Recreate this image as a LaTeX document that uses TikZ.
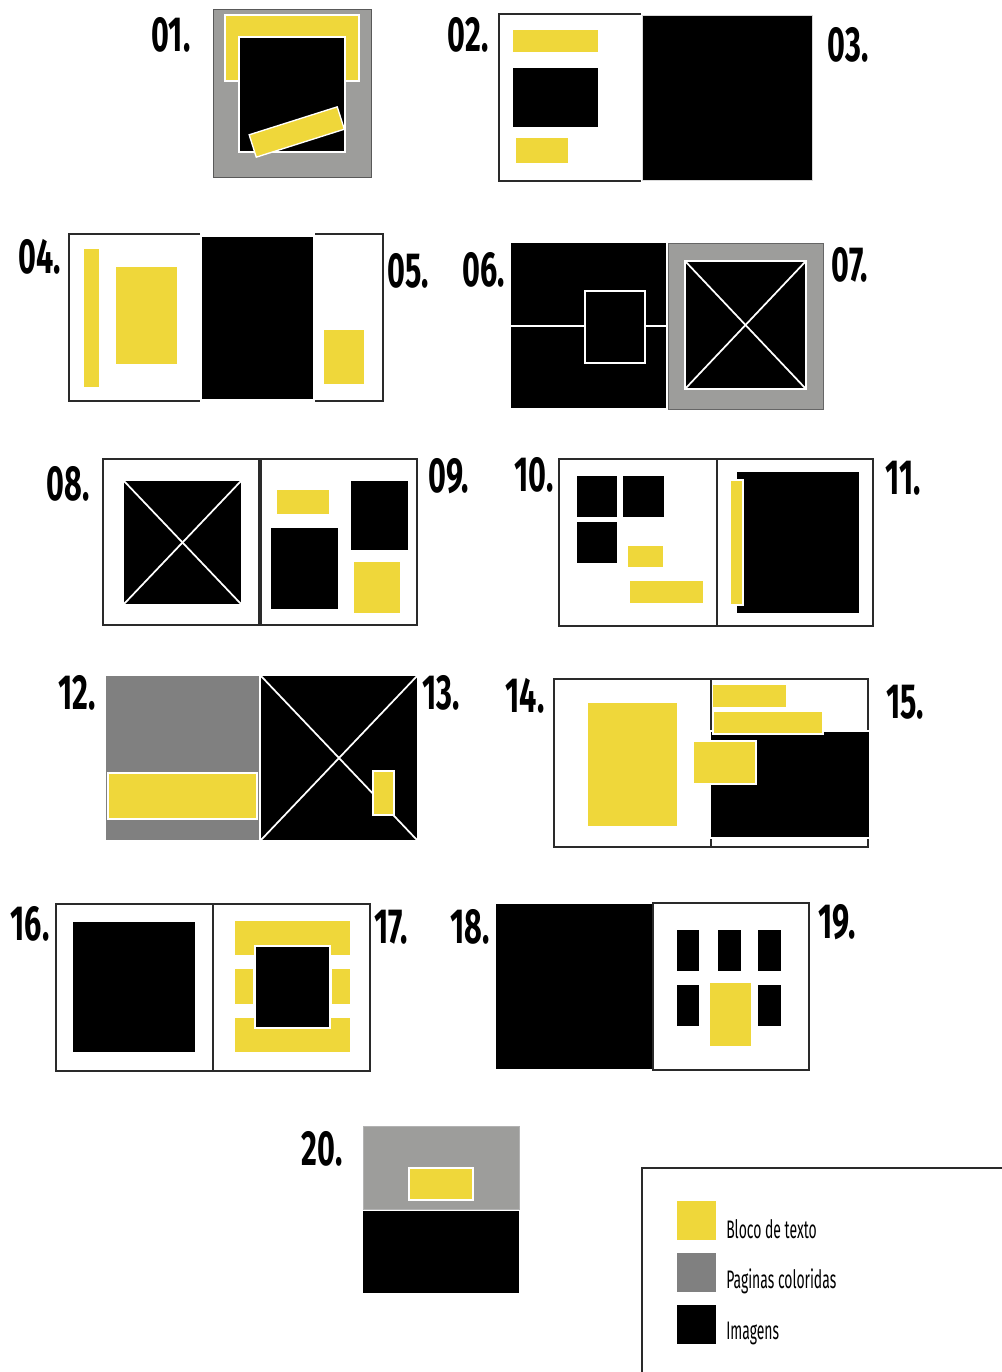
\documentclass[tikz,border=0pt]{standalone}
\usepackage{fontspec}
\newfontfamily\labfont{Fira Sans}[FakeStretch=0.62]
\newfontfamily\legfont{Fira Sans}[FakeStretch=0.55]
\definecolor{ylw}{HTML}{EFD73A}
\definecolor{lgray}{HTML}{9D9D9B}
\definecolor{dgray}{HTML}{808080}
\definecolor{frm}{HTML}{2A2A2A}
\begin{document}
\begin{tikzpicture}[x=0.75pt,y=-0.75pt,
 yb/.style={fill=ylw},
 ybw/.style={fill=ylw,draw=white,line width=1pt},
 ib/.style={fill=black},
 ibw/.style={fill=black,draw=white,line width=1pt},
 pagebox/.style={draw=frm,line width=1.1pt},
 wl/.style={draw=white,line width=1.3pt},
 num/.style={font=\labfont\bfseries\fontsize{37}{37}\selectfont, inner sep=0pt, anchor=center},
 leg/.style={font=\legfont\fontsize{19}{19}\selectfont, anchor=west, inner sep=0pt}]
\useasboundingbox[fill=white] (0,0) rectangle (1002,1372);

% ---- 01
\filldraw[fill=lgray, draw=gray!70!black, line width=0.6pt] (213,9) rectangle (371,177);
\filldraw[ybw] (225,15) rectangle (359,81);
\filldraw[ibw] (239,37) rectangle (345,152);
\node[ybw, rotate=17.6, minimum width=69.3pt, minimum height=17.6pt, inner sep=0pt] (r01) at (296.75,132) {};
\node[num] (n01) at (171,35) {01.};

% ---- 02 / 03
\draw[pagebox] (641,14) -- (499,14) -- (499,181) -- (641,181);
\filldraw[fill=black, draw=white!85!black, line width=0.6pt] (642,15) rectangle (812,180);
\fill[yb] (513,30) rectangle (598,52);
\fill[ib] (513,68) rectangle (598,127);
\fill[yb] (516,138) rectangle (568,163);
\node[num] (n02) at (468,35) {02.};
\node[num] (n03) at (848,45) {03.};

% ---- 04 / 05
\draw[pagebox] (200,234) -- (69,234) -- (69,401) -- (200,401);
\draw[pagebox] (315,234) -- (383,234) -- (383,401) -- (315,401);
\filldraw[ibw] (201,236) rectangle (314,400);
\fill[yb] (84,249) rectangle (99,387);
\fill[yb] (116,267) rectangle (177,364);
\fill[yb] (324,330) rectangle (364,384);
\node[num] (n04) at (40,257) {04.};
\node[num] (n05) at (408,271) {05.};

% ---- 06 / 07
\fill[black] (511,243) rectangle (666,408);
\draw[wl] (511,326) -- (585,326);
\draw[wl] (645,326) -- (666,326);
\draw[wl] (585,291) rectangle (645,363);
\filldraw[fill=lgray, draw=gray!80!black, line width=0.6pt] (668,243) rectangle (823,409);
\filldraw[fill=black, draw=white, line width=1.5pt] (685,261) rectangle (806,389);
\draw[wl] (685,261) -- (806,389);
\draw[wl] (806,261) -- (685,389);
\node[num] (n06) at (484,270) {06.};
\node[num] (n07) at (850,265) {07.};

% ---- 08 / 09
\draw[pagebox] (103,459) rectangle (259,625);
\draw[pagebox] (261,459) rectangle (417,625);
\fill[ib] (124,481) rectangle (241,604);
\draw[wl] (124,481) -- (241,604);
\draw[wl] (241,481) -- (124,604);
\fill[yb] (277,490) rectangle (329,514);
\fill[ib] (271,528) rectangle (338,609);
\fill[ib] (351,481) rectangle (408,550);
\fill[yb] (354,562) rectangle (400,613);
\node[num] (n08) at (68,484) {08.};
\node[num] (n09) at (449,476) {09.};

% ---- 10 / 11
\draw[pagebox] (559,459) rectangle (717,626);
\draw[pagebox] (717,459) rectangle (873,626);
\fill[ib] (577,476) rectangle (617,517);
\fill[ib] (623,476) rectangle (664,517);
\fill[ib] (577,522) rectangle (617,563);
\fill[yb] (628,546) rectangle (663,567);
\fill[yb] (630,581) rectangle (703,603);
\fill[ib] (737,472) rectangle (859,613);
\filldraw[ybw] (730,480) rectangle (743,605);
\node[num] (n10) at (534,475) {10.};
\node[num] (n11) at (903,478) {11.};

% ---- 12 / 13
\fill[dgray] (106,676) rectangle (259,840);
\filldraw[ybw] (108,773) rectangle (257,819);
\fill[black] (261,676) rectangle (417,840);
\draw[wl] (261,676) -- (417,840);
\draw[wl] (417,676) -- (261,840);
\filldraw[ybw] (373,771) rectangle (394,815);
\node[num] (n12) at (77,693) {12.};
\node[num] (n13) at (441,693) {13.};

% ---- 14 / 15
\draw[pagebox] (711,679) -- (554,679) -- (554,847) -- (711,847);
\draw[pagebox] (711,679) -- (868,679) -- (868,847) -- (711,847) -- cycle;
\filldraw[fill=ylw, draw=none] (588,703) rectangle (677,826);
\filldraw[fill=black, draw=white, line width=0.8pt] (710,731) rectangle (870,838);
\fill[yb] (713,685) rectangle (786,707);
\filldraw[ybw] (713,711) rectangle (823,734);
\filldraw[ybw] (693,741) rectangle (756,784);
\node[num] (n14) at (525,696) {14.};
\node[num] (n15) at (905,702) {15.};

% ---- 16 / 17
\draw[pagebox] (56,904) rectangle (213,1071);
\draw[pagebox] (213,904) rectangle (370,1071);
\fill[ib] (73,922) rectangle (195,1052);
\fill[yb] (235,921) rectangle (350,955);
\fill[yb] (235,969) rectangle (253,1004);
\fill[yb] (332,969) rectangle (350,1004);
\fill[yb] (235,1018) rectangle (350,1052);
\filldraw[ibw] (255,946) rectangle (330,1028);
\node[num] (n16) at (30,924) {16.};
\node[num] (n17) at (391,927) {17.};

% ---- 18 / 19
\draw[pagebox] (653,903) rectangle (809,1070);
\fill[ib] (496,904) rectangle (652,1069);
\fill[ib] (677,930) rectangle (699,971);
\fill[ib] (718,930) rectangle (741,971);
\fill[ib] (758,930) rectangle (781,971);
\fill[ib] (677,985) rectangle (699,1026);
\fill[ib] (758,985) rectangle (781,1026);
\fill[yb] (710,983) rectangle (751,1046);
\node[num] (n18) at (470,927) {18.};
\node[num] (n19) at (837,922) {19.};

% ---- 20
\filldraw[fill=lgray, draw=gray!60, line width=0.6pt] (363,1126) rectangle (519,1209);
\fill[ib] (363,1211) rectangle (519,1293);
\filldraw[ybw] (409,1168) rectangle (473,1200);
\node[num] (n20) at (322,1149) {20.};

% ---- legend
\draw[frm, line width=1.1pt] (642,1372) -- (642,1168) -- (1002,1168);
\fill[ylw] (677,1201) rectangle (716,1240);
\fill[dgray] (677,1253) rectangle (716,1292);
\fill[black] (677,1305) rectangle (716,1344);
\node[leg] (l1) at (726,1229) {Bloco de texto};
\node[leg] (l2) at (726,1281) {Paginas coloridas};
\node[leg] (l3) at (726,1333) {Imagens};
\end{tikzpicture}
\end{document}
